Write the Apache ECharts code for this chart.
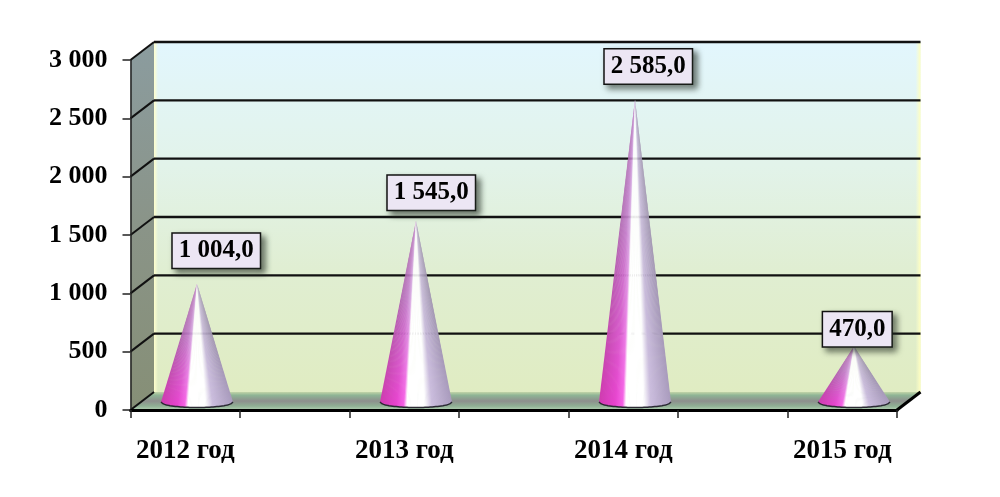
<!DOCTYPE html>
<html><head><meta charset="utf-8">
<style>html,body{margin:0;padding:0;background:#fff}#c{width:1000px;height:497px}</style>
<script src="https://cdn.jsdelivr.net/npm/echarts@6/dist/echarts.min.js"></script>
</head><body><div id="c"></div>
<script>
const years = ['2012 год', '2013 год', '2014 год', '2015 год'];
const values = [1004, 1545, 2585, 470];
const valueLabels = ['1 004,0', '1 545,0', '2 585,0', '470,0'];
const yTicks = [0, 500, 1000, 1500, 2000, 2500, 3000];

// layout only
const DX = 23.5, DY = -18;
const labelOffsets = [[31, -42], [27, -37], [25, -42], [15, -26]];
const FONT = '"Liberation Serif","Times New Roman",serif';

// The original has an empty slot between years: seven bands, labels on every other.
const slots = [];
years.forEach((y, i) => { if (i) slots.push(''); slots.push(y); });
const points = values.map((v, i) => [i * 2, v]);

const chart = echarts.init(document.getElementById('c'), null, {renderer: 'canvas'});

function renderChamber(params, api) {
  const r = params.coordSys;
  const x0 = r.x, x1 = r.x + r.width, y0 = r.y, y1 = r.y + r.height;
  const poly = (pts, fill, z2) => ({type: 'polygon', shape: {points: pts}, style: {fill}, z2: z2 || 0, silent: true});
  const line = (a, b, w, c) => ({type: 'line', shape: {x1: a[0], y1: a[1], x2: b[0], y2: b[1]}, style: {stroke: c || '#111', lineWidth: w}, z2: 5, silent: true});
  const kids = [];
  // back wall
  kids.push(poly([[x0+DX,y0+DY],[x1+DX,y0+DY],[x1+DX,y1+DY],[x0+DX,y1+DY]], {
    type:'linear',x:0,y:0,x2:0,y2:1,colorStops:[
      {offset:0,color:'#e2f6fd'},{offset:.35,color:'#e2f3ea'},{offset:.65,color:'#e0eed2'},{offset:1,color:'#e0ecc2'}]}));
  // pale yellow rims of the wall
  kids.push(poly([[x0+DX,y0+DY],[x0+DX+4,y0+DY],[x0+DX+4,y1+DY],[x0+DX,y1+DY]], {
    type:'linear',x:0,y:0,x2:1,y2:0,colorStops:[{offset:0,color:'rgba(255,255,205,1)'},{offset:1,color:'rgba(255,255,205,0)'}]},1));
  kids.push(poly([[x1+DX-5,y0+DY],[x1+DX,y0+DY],[x1+DX,y1+DY],[x1+DX-5,y1+DY]], {
    type:'linear',x:0,y:0,x2:1,y2:0,colorStops:[{offset:0,color:'rgba(255,255,205,0)'},{offset:1,color:'rgba(255,255,190,1)'}]},1));
  // side wall
  kids.push(poly([[x0,y0],[x0+DX,y0+DY],[x0+DX,y1+DY],[x0,y1]], {
    type:'linear',x:0,y:0,x2:0,y2:1,colorStops:[{offset:0,color:'#8b9c9f'},{offset:.5,color:'#8a9488'},{offset:1,color:'#868f76'}]},1));
  // floor
  kids.push(poly([[x0,y1],[x0+DX,y1+DY],[x1+DX,y1+DY],[x1,y1]], {
    type:'linear',x:0,y:0,x2:0,y2:1,colorStops:[
      {offset:0,color:'#c2d4a8'},{offset:.18,color:'#8fb595'},{offset:.5,color:'#8d8f8d'},{offset:.78,color:'#8fb094'},{offset:1,color:'#b4d0b4'}]},2));
  yTicks.forEach(v => {
    const y = api.coord([0, v])[1];
    if (v > 0) kids.push(line([x0+DX, y+DY], [x1+DX, y+DY], 2.4));
    kids.push(line([x0, y], [x0+DX, y+DY], 2));
  });
  // front floor edge and its right return
  kids.push(line([x1, y1], [x1+DX, y1+DY], 3, '#000'));
  return {type: 'group', children: kids};
}

const ramp = [
  [0.00, [176,104,178], [208, 58,176]],
  [0.22, [196,128,204], [232, 66,206]],
  [0.33, [216,170,228], [248, 96,230]],
  [0.37, [255,255,255], [255,255,255]],
  [0.62, [255,255,255], [255,255,255]],
  [0.72, [200,186,218], [204,190,222]],
  [1.00, [160,148,176], [170,156,190]]
];
function rampAt(u, idx) {
  for (let k = 1; k < ramp.length; k++) {
    if (u <= ramp[k][0]) {
      const a = ramp[k-1], b = ramp[k], t = (u - a[0]) / (b[0] - a[0]);
      const c = a[idx].map((v, n) => Math.round(v + (b[idx][n] - v) * t));
      return 'rgb(' + c.join(',') + ')';
    }
  }
  return 'rgb(' + ramp[ramp.length-1][idx].join(',') + ')';
}

function renderCone(params, api) {
  const base = api.coord([api.value(0), 0]);
  const tipP = api.coord([api.value(0), api.value(1)]);
  const cx = base[0] + DX / 2, cy = base[1] + DY / 2 + 1;
  const tip = [cx, tipP[1] + DY / 2];
  const rx = 36, ry = 5.5, N = 60;
  const at = u => [cx - rx + 2 * rx * u, cy + ry * Math.sqrt(Math.max(0, 1 - (2*u-1)*(2*u-1)))];
  const kids = [];
  for (let k = 0; k < N; k++) {
    const u0 = k / N, u1 = Math.min(1, (k + 1.6) / N), um = (k + .5) / N;
    kids.push({type: 'polygon', silent: true, shape: {points: [tip, at(u0), at(u1)]}, style: {
      fill: {type:'linear',x:0,y:0,x2:0,y2:1,colorStops:[
        {offset:0,color:rampAt(um,1)},{offset:.4,color:rampAt(um,1)},{offset:1,color:rampAt(um,2)}]}}});
  }
  const arc = [];
  for (let k = 0; k <= 40; k++) arc.push(at(k / 40));
  kids.push({type:'polyline', silent:true, shape:{points:arc}, style:{fill:'none',stroke:'#2a2a33',lineWidth:1.5}});
  return {type:'group', children:kids};
}

chart.setOption({
  animation: false,
  backgroundColor: '#fff',
  grid: {left: 130.5, top: 60, width: 766.5, height: 350, containLabel: false},
  xAxis: {
    type: 'category', data: slots, z: 6,
    axisLine: {show: true, lineStyle: {color: '#000', width: 3}},
    axisTick: {show: true, alignWithLabel: false, interval: 0, length: 8, lineStyle: {color: '#222', width: 1.5}},
    axisLabel: {show: true, interval: 0, margin: 28, color: '#000', fontFamily: FONT, fontWeight: 'bold', fontSize: 27},
    splitLine: {show: false}
  },
  yAxis: {
    type: 'value', min: 0, max: 3000, interval: 500, z: 6,
    axisLine: {show: true, lineStyle: {color: '#222', width: 1.5}},
    axisTick: {show: true, length: 8, lineStyle: {color: '#222', width: 1.5}},
    axisLabel: {show: true, margin: 23, color: '#000', fontFamily: FONT, fontWeight: 'bold', fontSize: 26,
      formatter: v => String(v).replace(/\B(?=(\d{3})+$)/g, ' ')},
    splitLine: {show: false}
  },
  series: [
    {type: 'custom', z: 1, silent: true, clip: false, coordinateSystem: 'cartesian2d', data: [[0, 0]], renderItem: renderChamber},
    {type: 'custom', z: 3, silent: true, clip: false, coordinateSystem: 'cartesian2d', data: points, encode: {x: 0, y: 1}, renderItem: renderCone},
    {type: 'scatter', z: 8, symbolSize: 0, silent: true, clip: false, itemStyle: {opacity: 1},
      data: points.map((p, i) => ({value: p, label: {offset: labelOffsets[i], formatter: valueLabels[i]}})),
      label: {show: true, position: 'inside', align: 'center', verticalAlign: 'middle', opacity: 1,
        color: '#000', fontFamily: FONT, fontWeight: 'bold', fontSize: 25, lineHeight: 26,
        backgroundColor: '#ece6f4', borderColor: '#111', borderWidth: 1.5, padding: [4, 6, 4, 6],
        shadowColor: 'rgba(30,40,30,0.6)', shadowBlur: 6, shadowOffsetX: 4, shadowOffsetY: 4}}
  ]
});
</script></body></html>
